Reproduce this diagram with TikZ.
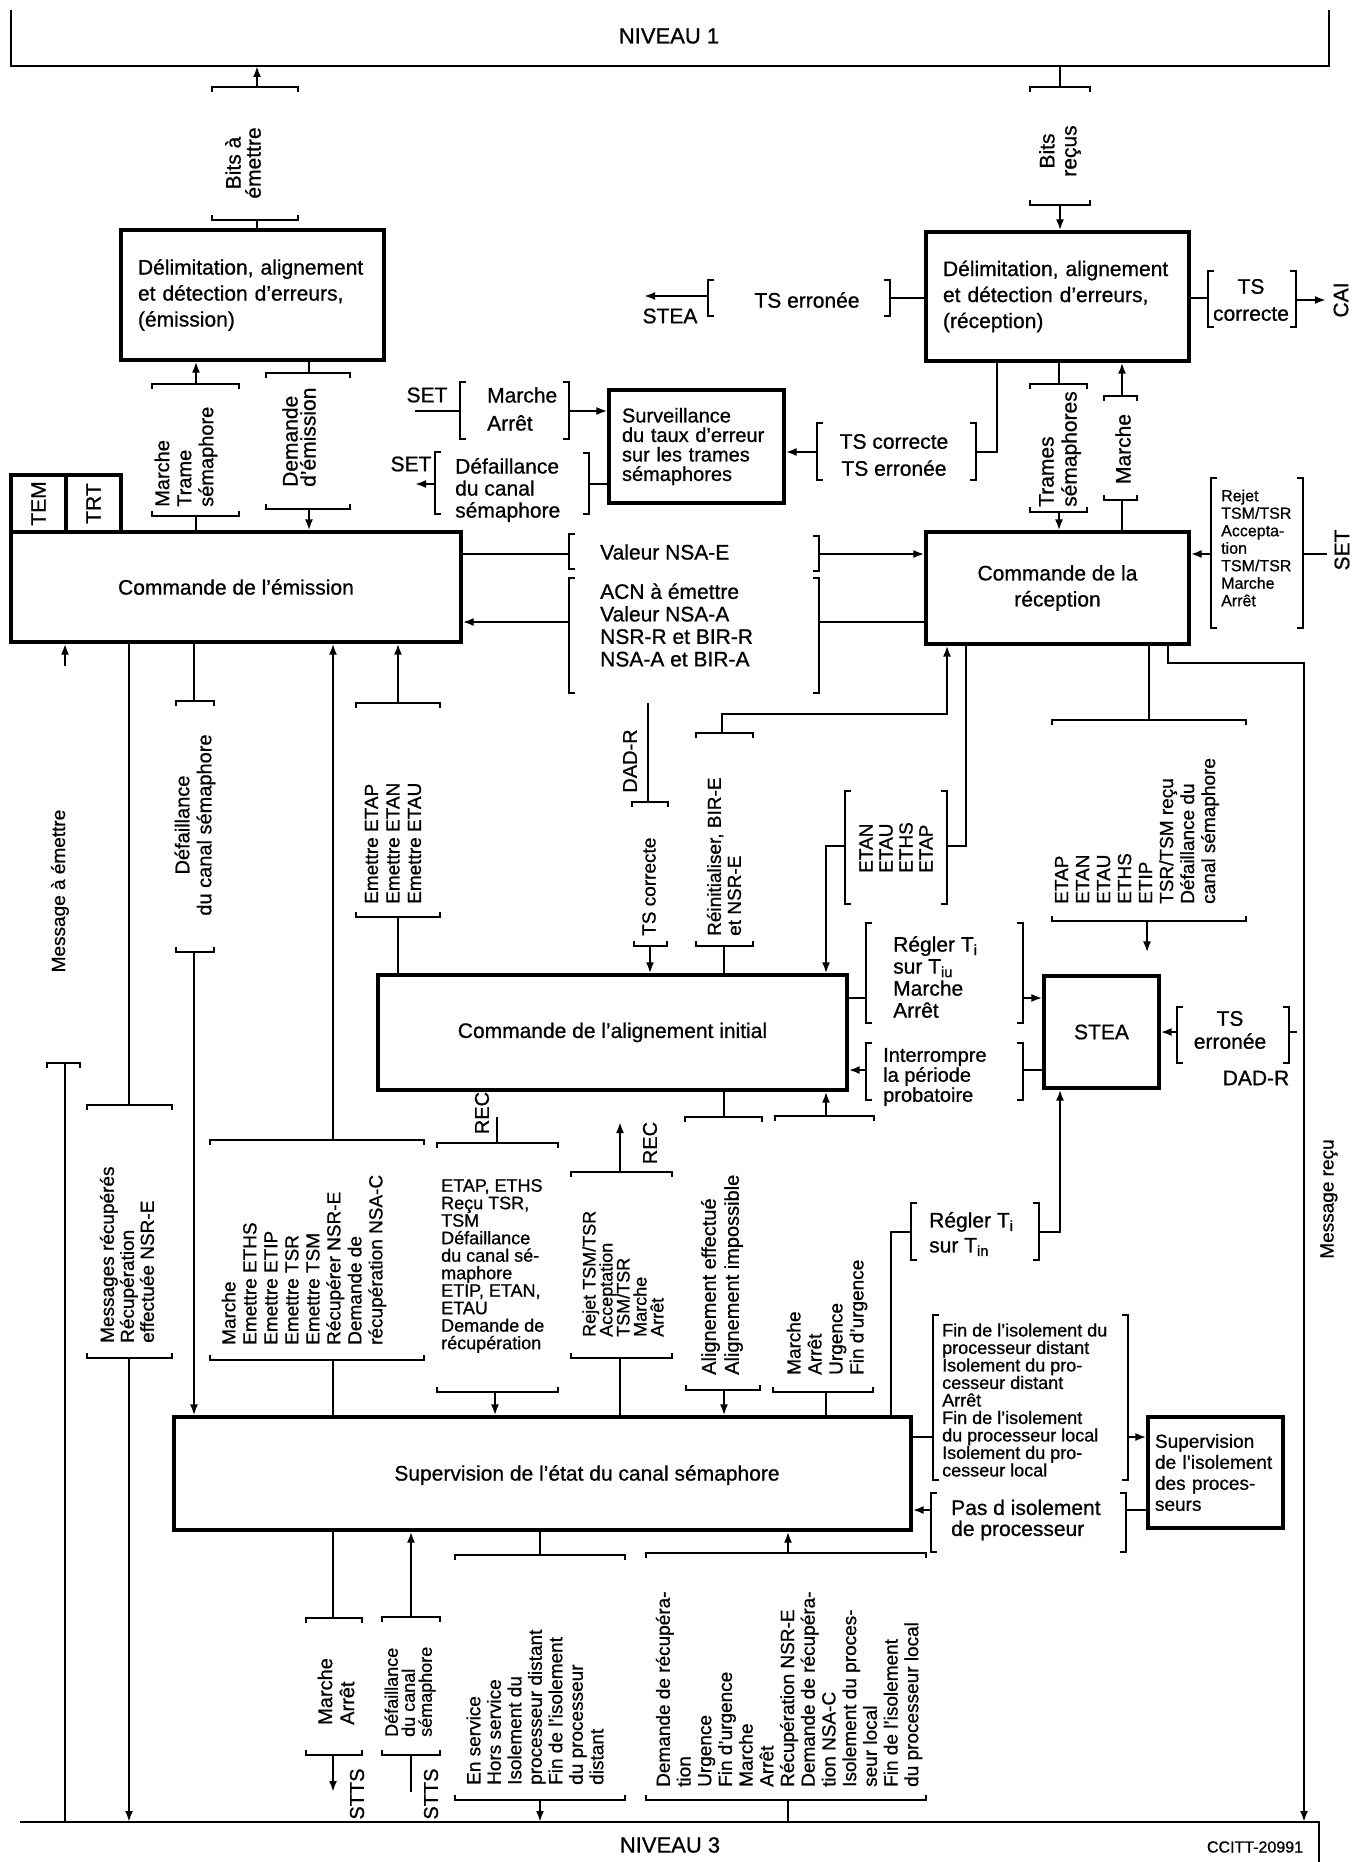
\documentclass[tikz,border=0pt]{standalone}
\usepackage{fontspec}
\setmainfont{Liberation Sans}[FakeBold=0.8]
\usetikzlibrary{arrows.meta}

\newcommand\ftxt{\fontsize{21}{26}\selectfont}
\newcommand\flst{\fontsize{19}{21.5}\selectfont}
\newcommand\fsml{\fontsize{16}{17.5}\selectfont}

\tikzset{
  wire/.style={line width=2.6pt},
  wirearr/.style={line width=2.6pt, -{Latex[length=11pt,width=8pt]}},
  box/.style={draw, line width=3.1pt, inner sep=0pt, font=\ftxt},
  lbl/.style={inner sep=0pt, font=\ftxt},
  vlbl/.style={inner sep=0pt, rotate=90, font=\flst},
  vlist/.style={vlbl, anchor=west, align=left},
}

% horizontal bracket: name, stem x, x1, x2, y, tick
\newcommand\hbrk[6]{%
  \draw[wire] (#3,{#5+(#6)}) -- (#3,#5) -- (#4,#5) -- (#4,{#5+(#6)});
  \coordinate (#1) at (#2,#5);}
% vertical bracket: name, x, y1, y2, stem y, tick
\newcommand\vbrk[6]{%
  \draw[wire] ({#2+(#6)},#3) -- (#2,#3) -- (#2,#4) -- ({#2+(#6)},#4);
  \coordinate (#1) at (#2,#5);}

\begin{document}
\begin{tikzpicture}[x=1pt,y=-1pt]
  \useasboundingbox (0,0) rectangle (1364,1862);

  % boxes
  \node[box, align=left, text width=229, inner xsep=17, minimum width=263, minimum height=130] (delE) at (252.5,295) {Délimitation, alignement\\et détection d'erreurs,\\(émission)};
  \node[box, align=left, text width=229, inner xsep=17, minimum width=263, minimum height=129] (delR) at (1057.5,296.5) {Délimitation, alignement\\et détection d'erreurs,\\(réception)};
  \node[box, minimum width=450, minimum height=110] (ce) at (236,587) {Commande de l'émission};
  \node[box, rotate=90, minimum width=57, minimum height=55] (tem) at (38.5,503.5) {TEM};
  \node[box, rotate=90, minimum width=57, minimum height=55] (trt) at (93.5,503.5) {TRT};
  \node[box, align=center, minimum width=263, minimum height=112] (cr) at (1057.5,588) {Commande de la\\réception};
  \node[box, align=left, text width=149, inner xsep=13, minimum width=175, minimum height=113, font=\fontsize{20}{19.5}\selectfont] (surv) at (696.5,446.5) {Surveillance\\du taux d'erreur\\sur les trames\\sémaphores};
  \node[box, minimum width=469, minimum height=115] (al) at (612.5,1032.5) {Commande de l'alignement initial};
  \node[box, minimum width=115, minimum height=112] (stea) at (1101.5,1032) {STEA};
  \node[box, minimum width=737, minimum height=113] (sup) at (542.5,1473.5) {};
  \node[lbl] (supT) at (587,1475) {Supervision de l'état du canal sémaphore};
  \node[box, align=left, text width=121, inner xsep=7, minimum width=135, minimum height=111, font=\fontsize{19}{21}\selectfont] (isol) at (1215.5,1472.5) {Supervision\\de l'isolement\\des proces-\\seurs};

  % levels
  \coordinate (n1L) at (11,66);
  \coordinate (n1R) at (1329,66);
  \draw[wire] (11,10) -- (n1L) -- (n1R) -- (1329,10);
  \node[lbl, font=\fontsize{22}{26}\selectfont] (niv1) at (669,36) {NIVEAU 1};
  \coordinate (n3L) at (20,1822);
  \coordinate (n3R) at (1319,1822);
  \draw[wire] (n3L) -- (n3R) -- (1319,1862);
  \node[lbl, font=\fontsize{22}{26}\selectfont] (niv3) at (670,1845) {NIVEAU 3};
  \node[lbl, font=\fsml] (ccitt) at (1255,1847) {CCITT-20991};

  % Bits a emettre
  \hbrk{be1}{257}{212}{298}{87}{5}
  \draw[wirearr] (be1) -- (be1 |- n1L);
  \node[vlbl, align=center, font=\fontsize{21}{20}\selectfont] (beT) at (243,163) {Bits à\\émettre};
  \hbrk{be2}{257}{212}{298}{220}{-5}
  \draw[wire] (be2) -- (be2 |- delE.north);

  % Marche / Trame semaphore
  \hbrk{mt1}{196}{152}{239}{384}{5}
  \draw[wirearr] (mt1) -- (mt1 |- delE.south);
  \node[vlist, font=\fontsize{20}{22}\selectfont] (mtT) at (186,507) {Marche\\Trame\\sémaphore};
  \hbrk{mt2}{196}{152}{239}{516}{-5}
  \draw[wire] (mt2) -- (mt2 |- ce.north);

  % Demande d'emission
  \hbrk{de1}{309}{266}{350}{373}{5}
  \draw[wire] (de1 |- delE.south) -- (de1);
  \node[vlist, font=\fontsize{21}{18}\selectfont] (deT) at (299,487) {Demande\\d'émission};
  \hbrk{de2}{309}{266}{350}{509}{-5}
  \draw[wirearr] (de2) -- (de2 |- ce.north);

  % Bits recus
  \hbrk{br1}{1060}{1030}{1090}{87}{5}
  \draw[wire] (br1 |- n1L) -- (br1);
  \node[vlbl, align=center, font=\fontsize{21}{22}\selectfont] (brT) at (1060,151) {Bits\\reçus};
  \hbrk{br2}{1060}{1030}{1090}{205}{-5}
  \draw[wirearr] (br2) -- (br2 |- delR.north);

  % TS erronee -> STEA
  \vbrk{te2}{890}{280}{316}{298}{-6}
  \draw[wire] (te2 -| delR.west) -- (te2);
  \node[lbl] (teT) at (807,300) {TS erronée};
  \vbrk{te1}{708}{280}{316}{296}{6}
  \coordinate (steaL) at (644,296);
  \draw[wirearr] (te1) -- (steaL);
  \node[lbl] (steaLT) at (670,316) {STEA};

  % TS correcte -> CAI
  \vbrk{tc1}{1208}{271}{327}{298}{6}
  \draw[wire] (tc1 -| delR.east) -- (tc1);
  \node[lbl, align=center, font=\fontsize{21}{27}\selectfont] (tcT) at (1251,300) {TS\\correcte};
  \vbrk{tc2}{1296}{271}{327}{300}{-6}
  \coordinate (cai) at (1326,300);
  \draw[wirearr] (tc2) -- (cai);
  \node[vlbl, font=\ftxt] (caiT) at (1341,300) {CAI};

  % SET Marche / Arret
  \node[lbl] (set1) at (427,395) {SET};
  \vbrk{sm1}{460}{382}{439}{411}{6}
  \coordinate (set1e) at (415,411);
  \draw[wire] (set1e) -- (sm1);
  \node[lbl, anchor=west, align=left, font=\fontsize{21}{28}\selectfont] (smT) at (487,409) {Marche\\Arrêt};
  \vbrk{sm2}{569}{382}{439}{411}{-6}
  \draw[wirearr] (sm2) -- (sm2 -| surv.west);

  % SET Defaillance
  \node[lbl] (set2) at (411,464) {SET};
  \vbrk{sd1}{435}{452}{514}{484}{6}
  \coordinate (set2e) at (415,484);
  \draw[wirearr] (sd1) -- (set2e);
  \node[lbl, anchor=west, align=left, font=\fontsize{21}{22}\selectfont] (sdT) at (455,490) {Défaillance\\du canal\\sémaphore};
  \vbrk{sd2}{589}{453}{514}{484}{-6}
  \draw[wire] (sd2) -- (sd2 -| surv.west);

  % TS correcte / TS erronee -> surveillance
  \vbrk{ts2}{976}{423}{480}{452}{-6}
  \coordinate (tsk) at (997,452);
  \draw[wire] (tsk |- delR.south) -- (tsk) -- (ts2);
  \node[lbl, align=center, font=\fontsize{21}{27}\selectfont] (tsT) at (894,455) {TS correcte\\TS erronée};
  \vbrk{ts1}{817}{423}{480}{452}{6}
  \draw[wirearr] (ts1) -- (ts1 -| surv.east);

  % Trames semaphores
  \hbrk{tr1}{1059}{1030}{1087}{384}{5}
  \draw[wire] (tr1 |- delR.south) -- (tr1);
  \node[vlist, font=\fontsize{21}{23}\selectfont] (trT) at (1060,507) {Trames\\sémaphores};
  \hbrk{tr2}{1059}{1030}{1087}{512}{-5}
  \draw[wirearr] (tr2) -- (tr2 |- cr.north);

  % Marche (reception)
  \hbrk{mar1}{1122}{1104}{1137}{396}{5}
  \draw[wirearr] (mar1) -- (mar1 |- delR.south);
  \node[vlbl, font=\ftxt] (marT) at (1123,449) {Marche};
  \hbrk{mar2}{1122}{1104}{1137}{500}{-5}
  \draw[wire] (mar2 |- cr.north) -- (mar2);

  % Rejet ... SET
  \vbrk{rj1}{1211}{478}{628}{554}{6}
  \draw[wirearr] (rj1) -- (rj1 -| cr.east);
  \node[lbl, anchor=west, align=left, font=\fontsize{16}{17.5}\selectfont] (rjT) at (1221,548) {Rejet\\TSM/TSR\\Accepta-\\tion\\TSM/TSR\\Marche\\Arrêt};
  \vbrk{rj2}{1303}{478}{628}{554}{-6}
  \coordinate (set3e) at (1327,554);
  \draw[wire] (rj2) -- (set3e);
  \node[vlbl, font=\ftxt] (set3) at (1342,550) {SET};

  % Valeur NSA-E
  \vbrk{ve1}{569}{534}{569}{554}{6}
  \draw[wire] (ve1 -| ce.east) -- (ve1);
  \node[lbl, anchor=west] (veT) at (600,552) {Valeur NSA-E};
  \vbrk{ve2}{819}{536}{571}{554}{-6}
  \draw[wirearr] (ve2) -- (ve2 -| cr.west);

  % ACN a emettre ...
  \vbrk{ac1}{569}{578}{693}{622}{6}
  \draw[wirearr] (ac1) -- (ac1 -| ce.east);
  \node[lbl, anchor=west, align=left, font=\fontsize{21}{22.5}\selectfont] (acT) at (600,625) {ACN à émettre\\Valeur NSA-A\\NSR-R et BIR-R\\NSA-A et BIR-A};
  \vbrk{ac2}{819}{578}{693}{622}{-6}
  \draw[wire] (ac2) -- (ac2 -| cr.west);

  % Message a emettre
  \coordinate (mee) at (65,666);
  \draw[wirearr] (mee) -- (mee |- ce.south);
  \node[vlbl] (meT) at (60,891) {Message à émettre};
  \hbrk{me1}{65}{47}{80}{1063}{5}
  \draw[wire] (me1) -- (me1 |- n3L);

  % Defaillance du canal semaphore (emission)
  \hbrk{dc1}{194}{176}{214}{701}{5}
  \draw[wire] (dc1 |- ce.south) -- (dc1);
  \node[vlbl, align=center, font=\fontsize{20}{22}\selectfont] (dcT) at (195,825) {Défaillance\\du canal sémaphore};
  \hbrk{dc2}{194}{176}{214}{952}{-5}
  \draw[wirearr] (dc2) -- (dc2 |- sup.north);

  % Messages recuperes
  \hbrk{rc1}{129}{87}{172}{1105}{5}
  \draw[wire] (rc1 |- ce.south) -- (rc1);
  \node[vlist, font=\fontsize{19}{20}\selectfont] (rcT) at (127,1343) {Messages récupérés\\Récupération\\effectuée NSR-E};
  \hbrk{rc2}{129}{87}{172}{1358}{-5}
  \draw[wirearr] (rc2) -- (rc2 |- n3L);

  % Emettre ETAP ...
  \hbrk{ea1}{398}{356}{440}{703}{5}
  \draw[wirearr] (ea1) -- (ea1 |- ce.south);
  \node[vlist] (eaT) at (393,904) {Emettre ETAP\\Emettre ETAN\\Emettre ETAU};
  \hbrk{ea2}{398}{356}{440}{917}{-5}
  \draw[wire] (ea2) -- (ea2 |- al.north);

  % Marche, Emettre ETHS ...
  \hbrk{em1}{333}{210}{424}{1140}{5}
  \draw[wirearr] (em1) -- (em1 |- ce.south);
  \node[vlist, font=\fontsize{19}{21}\selectfont] (emT) at (304,1345) {Marche\\Emettre ETHS\\Emettre ETIP\\Emettre TSR\\Emettre TSM\\Récupérer NSR-E\\Demande de\\récupération NSA-C};
  \hbrk{em2}{333}{210}{424}{1360}{-5}
  \draw[wire] (em2) -- (em2 |- sup.north);

  % ETAP, ETHS ... REC
  \hbrk{ep1}{497}{437}{558}{1143}{5}
  \coordinate (rec1) at (497,1117);
  \draw[wire] (ep1) -- (rec1);
  \node[vlbl, font=\fontsize{20}{22}\selectfont] (rec1T) at (482,1113) {REC};
  \node[lbl, anchor=west, align=left, font=\fontsize{18}{17.5}\selectfont] (epT) at (441,1266) {ETAP, ETHS\\Reçu TSR,\\TSM\\Défaillance\\du canal sé-\\maphore\\ETIP, ETAN,\\ETAU\\Demande de\\récupération};
  \hbrk{ep2}{495}{437}{558}{1392}{-5}
  \draw[wirearr] (ep2) -- (ep2 |- sup.north);

  % Rejet TSM/TSR ... REC
  \hbrk{rt1}{620}{571}{672}{1172}{5}
  \coordinate (rec2) at (620,1122);
  \draw[wirearr] (rt1) -- (rec2);
  \node[vlbl, font=\fontsize{20}{22}\selectfont] (rec2T) at (650,1143) {REC};
  \node[vlist, font=\fontsize{18}{17}\selectfont] (rtT) at (623,1337) {Rejet TSM/TSR\\Acceptation\\TSM/TSR\\Marche\\Arrêt};
  \hbrk{rt2}{620}{571}{672}{1358}{-5}
  \draw[wire] (rt2) -- (rt2 |- sup.north);

  % Alignement effectue / impossible
  \hbrk{ae1}{724}{685}{762}{1117}{5}
  \draw[wire] (ae1 |- al.south) -- (ae1);
  \node[vlist, font=\fontsize{20}{23}\selectfont] (aeT) at (722,1375) {Alignement effectué\\Alignement impossible};
  \hbrk{ae2}{724}{686}{760}{1390}{-5}
  \draw[wirearr] (ae2) -- (ae2 |- sup.north);

  % Marche, Arret, Urgence ...
  \hbrk{mu1}{826}{775}{874}{1116}{5}
  \draw[wirearr] (mu1) -- (mu1 |- al.south);
  \node[vlist, font=\fontsize{19}{21}\selectfont] (muT) at (827,1375) {Marche\\Arrêt\\Urgence\\Fin d'urgence};
  \hbrk{mu2}{826}{773}{873}{1392}{-5}
  \draw[wire] (mu2) -- (mu2 |- sup.north);

  % Regler Ti sur Tin
  \vbrk{rn1}{911}{1203}{1260}{1232}{6}
  \coordinate (rnk) at (891,1232);
  \draw[wire] (rnk |- sup.north) -- (rnk) -- (rn1);
  \node[lbl, anchor=west, align=left, font=\fontsize{21}{25}\selectfont] (rnT) at (929,1234) {Régler T\textsubscript{i}\\sur T\textsubscript{in}};
  \vbrk{rn2}{1039}{1203}{1260}{1232}{-6}
  \coordinate (rnk2) at (1060,1232);
  \draw[wirearr] (rn2) -- (rnk2) -- (rnk2 |- stea.south);

  % Fin de l'isolement ...
  \vbrk{fi1}{933}{1315}{1480}{1437}{6}
  \draw[wire] (fi1 -| sup.east) -- (fi1);
  \node[lbl, anchor=west, align=left, font=\fontsize{18}{17.5}\selectfont] (fiT) at (942,1400) {Fin de l'isolement du\\processeur distant\\Isolement du pro-\\cesseur distant\\Arrêt\\Fin de l'isolement\\du processeur local\\Isolement du pro-\\cesseur local};
  \vbrk{fi2}{1128}{1315}{1480}{1437}{-6}
  \draw[wirearr] (fi2) -- (fi2 -| isol.west);

  % Pas d isolement
  \vbrk{pi1}{931}{1493}{1552}{1510}{6}
  \draw[wirearr] (pi1) -- (pi1 -| sup.east);
  \node[lbl, anchor=west, align=left, font=\fontsize{21}{21}\selectfont] (piT) at (951,1520) {Pas d isolement\\de processeur};
  \vbrk{pi2}{1126}{1493}{1552}{1510}{-6}
  \draw[wire] (pi2) -- (pi2 -| isol.west);

  % Regler Ti sur Tiu, Marche, Arret
  \vbrk{ru1}{866}{923}{1023}{998}{6}
  \draw[wire] (ru1 -| al.east) -- (ru1);
  \node[lbl, anchor=west, align=left, font=\fontsize{21}{22}\selectfont] (ruT) at (893,977) {Régler T\textsubscript{i}\\sur T\textsubscript{iu}\\Marche\\Arrêt};
  \vbrk{ru2}{1023}{923}{1023}{998}{-6}
  \draw[wirearr] (ru2) -- (ru2 -| stea.west);

  % Interrompre la periode probatoire
  \vbrk{ip1}{866}{1043}{1100}{1070}{6}
  \draw[wirearr] (ip1) -- (ip1 -| al.east);
  \node[lbl, anchor=west, align=left, font=\fontsize{20}{20}\selectfont] (ipT) at (883,1077) {Interrompre\\la période\\probatoire};
  \vbrk{ip2}{1023}{1043}{1100}{1070}{-6}
  \draw[wire] (ip2) -- (ip2 -| stea.west);

  % TS erronee -> STEA (DAD-R)
  \vbrk{se1}{1177}{1007}{1063}{1032}{6}
  \draw[wirearr] (se1) -- (se1 -| stea.east);
  \node[lbl, align=center, font=\fontsize{21}{23}\selectfont] (seT) at (1230,1030) {TS\\erronée};
  \vbrk{se2}{1289}{1007}{1063}{1032}{-6}
  \coordinate (se3) at (1297,1032);
  \draw[wire] (se2) -- (se3);
  \node[lbl] (dadR) at (1256,1078) {DAD-R};

  % ETAN ETAU ETHS ETAP
  \vbrk{en2}{947}{791}{904}{846}{-6}
  \coordinate (enk) at (966,846);
  \draw[wire] (enk |- cr.south) -- (enk) -- (en2);
  \node[vlist, font=\fontsize{19}{20}\selectfont] (enT) at (896,873) {ETAN\\ETAU\\ETHS\\ETAP};
  \vbrk{en1}{845}{791}{904}{846}{6}
  \coordinate (enk2) at (826,846);
  \draw[wirearr] (en1) -- (enk2) -- (enk2 |- al.north);

  % ETAP ... canal semaphore -> STEA
  \hbrk{et1}{1149}{1052}{1246}{720}{5}
  \draw[wire] (et1 |- cr.south) -- (et1);
  \node[vlist, font=\fontsize{19}{21}\selectfont] (etT) at (1137,904) {ETAP\\ETAN\\ETAU\\ETHS\\ETIP\\TSR/TSM reçu\\Défaillance du\\canal sémaphore};
  \hbrk{et2}{1147}{1052}{1246}{921}{-5}
  \draw[wirearr, shorten >=22pt] (et2) -- (et2 |- stea.north);

  % Reinitialiser, BIR-E et NSR-E
  \hbrk{ri1}{722}{696}{753}{733}{5}
  \coordinate (rik) at (722,714);
  \coordinate (rik2) at (947,714);
  \draw[wirearr] (ri1) -- (rik) -- (rik2) -- (rik2 |- cr.south);
  \node[vlist, font=\fontsize{19}{20}\selectfont] (riT) at (724,936) {Réinitialiser, BIR-E\\et NSR-E};
  \hbrk{ri2}{724}{696}{753}{946}{-5}
  \draw[wire] (ri2) -- (ri2 |- al.north);

  % DAD-R / TS correcte
  \coordinate (dad) at (648,703);
  \hbrk{tq1}{648}{632}{668}{802}{5}
  \draw[wire] (dad) -- (tq1);
  \node[vlbl, font=\fontsize{20}{22}\selectfont] (dadT) at (630,761) {DAD-R};
  \node[vlist] (tqT) at (649,936) {TS correcte};
  \hbrk{tq2}{650}{634}{667}{946}{-5}
  \draw[wirearr] (tq2) -- (tq2 |- al.north);

  % Message recu
  \coordinate (mrk) at (1168,663);
  \coordinate (mrk2) at (1304,663);
  \draw[wirearr] (mrk |- cr.south) -- (mrk) -- (mrk2) -- (mrk2 |- n3L);
  \node[vlbl] (mrT) at (1329,1199) {Message reçu};

  % Marche / Arret -> STTS
  \hbrk{mb1}{333}{306}{362}{1618}{5}
  \draw[wire] (mb1 |- sup.south) -- (mb1);
  \node[vlist, font=\fontsize{20}{22}\selectfont] (mbT) at (336,1725) {Marche\\Arrêt};
  \hbrk{mb2}{333}{306}{362}{1755}{-5}
  \coordinate (stts1) at (333,1792);
  \draw[wirearr] (mb2) -- (stts1);
  \node[vlbl, font=\fontsize{20}{22}\selectfont] (stts1T) at (357,1794) {STTS};

  % STTS -> Defaillance du canal semaphore
  \hbrk{db1}{411}{382}{440}{1617}{5}
  \draw[wirearr] (db1) -- (db1 |- sup.south);
  \node[vlist, font=\fontsize{18}{17}\selectfont] (dbT) at (410,1737) {Défaillance\\du canal\\sémaphore};
  \hbrk{db2}{411}{382}{440}{1755}{-5}
  \coordinate (stts2) at (411,1792);
  \draw[wire] (stts2) -- (db2);
  \node[vlbl, font=\fontsize{20}{22}\selectfont] (stts2T) at (431,1794) {STTS};

  % En service ...
  \hbrk{es1}{540}{455}{625}{1555}{5}
  \draw[wire] (es1 |- sup.south) -- (es1);
  \node[vlist, font=\fontsize{19}{20.5}\selectfont] (esT) at (535,1785) {En service\\Hors service\\Isolement du\\processeur distant\\Fin de l'isolement\\du processeur\\distant};
  \hbrk{es2}{540}{455}{625}{1800}{-5}
  \draw[wirearr] (es2) -- (es2 |- n3L);

  % Demande de recuperation ...
  \hbrk{dr1}{788}{646}{926}{1553}{5}
  \draw[wirearr] (dr1) -- (dr1 |- sup.south);
  \node[vlist, font=\fontsize{19}{20.7}\selectfont] (drT) at (789,1787) {Demande de récupéra-\\tion\\Urgence\\Fin d'urgence\\Marche\\Arrêt\\Récupération NSR-E\\Demande de récupéra-\\tion NSA-C\\Isolement du proces-\\seur local\\Fin de l'isolement\\du processeur local};
  \hbrk{dr2}{788}{646}{926}{1800}{-5}
  \draw[wire] (dr2) -- (dr2 |- n3L);
\end{tikzpicture}
\end{document}
